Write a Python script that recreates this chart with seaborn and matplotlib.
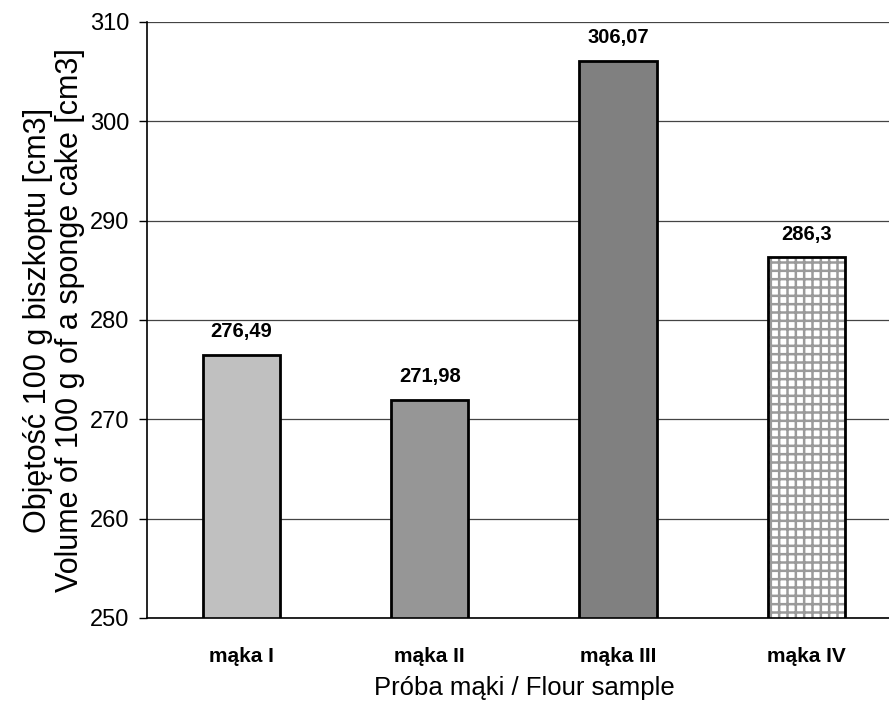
import matplotlib
matplotlib.use("Agg")
import matplotlib.pyplot as plt
import matplotlib.colors as mcolors
import seaborn as sns
import pandas as pd

categories = ["mąka I", "mąka II", "mąka III", "mąka IV"]
values = [276.49, 271.98, 306.07, 286.3]
value_labels = ["276,49", "271,98", "306,07", "286,3"]
bar_colors = ["#C0C0C0", "#969696", "#808080", "#FFFFFF"]
y_ticks = [250, 260, 270, 280, 290, 300, 310]

sns.set_theme(style="white")
plt.rcParams["font.family"] = ["Liberation Sans", "DejaVu Sans"]
plt.rcParams["hatch.linewidth"] = 1.8
for k in ["text.color", "axes.labelcolor", "xtick.color", "ytick.color"]:
    plt.rcParams[k] = "black"

df = pd.DataFrame({"cat": categories, "val": values})

fig = plt.figure(figsize=(8.89, 7.09), dpi=100)
ax = fig.add_axes([147.3 / 889, 1 - 618 / 709, (900.5 - 147.3) / 889, (618 - 22) / 709])

sns.barplot(data=df, x="cat", y="val", hue="cat", palette=bar_colors,
            order=categories, hue_order=categories, width=0.41,
            edgecolor="black", linewidth=2.0, saturation=1, legend=False, ax=ax)

# hatch for the last bar
p = ax.patches[3]
p.set_hatch("++")
if hasattr(p, "set_hatchcolor"):
    p.set_hatchcolor("#9a9a9a")
else:
    p._hatch_color = mcolors.to_rgba("#9a9a9a")

ax.set_ylim(250, 310)
ax.set_yticks(y_ticks)
ax.set_xlim(-0.5, 3.5)

ax.set_axisbelow(True)
ax.yaxis.grid(True, color="#444444", linewidth=0.9)
ax.xaxis.grid(False)

for s in ["top", "right"]:
    ax.spines[s].set_visible(False)
for s in ["left", "bottom"]:
    ax.spines[s].set_color("black")
    ax.spines[s].set_linewidth(1.2)

ax.set_xticks([0, 1, 2, 3])
ax.set_xticklabels(categories, fontsize=15, fontweight="bold")
ax.tick_params(axis="x", which="both", length=0, pad=21)
ax.set_xticks([0.5, 1.5, 2.5], minor=True)
ax.tick_params(axis="x", which="minor", length=7, width=1.0, color="black", direction="out")
ax.tick_params(axis="y", labelsize=17, length=6, width=1.0, color="black", direction="out", pad=7, left=True)

for cont, lab in zip(ax.containers, value_labels):
    ax.bar_label(cont, labels=[lab], padding=10, fontsize=14.5, fontweight="bold")

ax.set_xlabel("Próba mąki / Flour sample", fontsize=18.5, labelpad=7)
ax.set_ylabel("Objętość 100 g biszkoptu [cm3]\nVolume of 100 g of a sponge cake [cm3]",
              fontsize=22, linespacing=1.1)
ax.yaxis.set_label_coords((85 - 147.3) / 753.2, 0.5)

fig.savefig("out.png", dpi=100)
